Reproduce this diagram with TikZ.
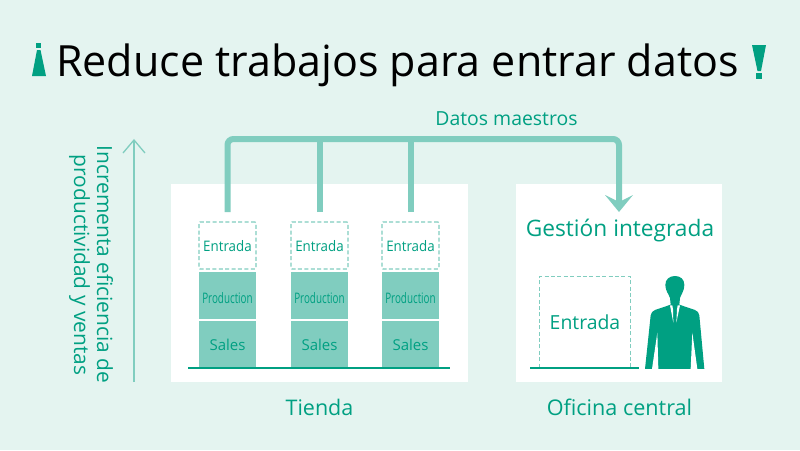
\documentclass[tikz,border=0pt]{standalone}
\usepackage{graphicx}
\usepackage{fontspec}
\setmainfont{Open Sans}
\definecolor{bgc}{HTML}{E4F4F0}
\definecolor{teal}{HTML}{00A082}
\definecolor{lite}{HTML}{80CDBF}
\newcommand{\fsz}[1]{\fontsize{#1}{#1}\selectfont}
\tikzset{
  panel/.style={fill=white,draw=none,minimum width=#1,minimum height=198pt,inner sep=0pt},
  txt/.style={text=teal,inner sep=0pt,font=\fsz{#1}},
  inputbox/.style={draw=lite,line width=1.4pt,dash pattern=on 4pt off 2.4pt,rounded corners=1pt,minimum width=57pt,minimum height=47pt,inner sep=0pt,text=teal,font=\fsz{14.5}},
  prodbox/.style={fill=lite,minimum width=57pt,minimum height=47pt,inner sep=0pt,text=teal,font=\fsz{14.5}},
  salesbox/.style={fill=lite,minimum width=57pt,minimum height=46.5pt,inner sep=0pt,text=teal,font=\fsz{15}},
  pipe/.style={draw=lite,line width=6pt},
  floorline/.style={draw=teal,line width=2pt},
}
\begin{document}
\begin{tikzpicture}[x=1pt,y=-1pt]
\useasboundingbox (0,0) rectangle (800,450);
\fill[bgc] (0,0) rectangle (800,450);
% title
\node[anchor=base,inner sep=0pt,text=black,font=\fsz{43}] (title) at (397.5,76) {Reduce trabajos para entrar datos};
\fill[teal] (36,43) rectangle (41,48);
\fill[teal] (37,50) -- (40.5,50) -- (46,76) -- (32,76) -- cycle;
\fill[teal] (752,45) -- (766,45) -- (761,71) -- (757.5,71) -- cycle;
\fill[teal] (756,73) rectangle (762,78.5);
% panels
\node[panel=297pt] (shop) at (319.5,283) {};
\node[panel=206pt] (office) at (619,283) {};
% stacks
\foreach \n/\x in {a/227.5,b/319.5,c/410.5}{
  \node[inputbox] (in\n) at (\x,245.5) {\raisebox{-6pt}[0pt][0pt]{\scalebox{.92}[1]{Entrada}}};
  \node[prodbox] (pr\n) at (\x,295.5) {\raisebox{-7.5pt}[0pt][0pt]{\scalebox{.68}[1]{Production}}};
  \node[salesbox] (sa\n) at (\x,344.2) {\raisebox{-6.5pt}[0pt][0pt]{Sales}};
  \coordinate (top\n) at (\x,139);
  \coordinate (end\n) at (\x,212);
}
\draw[floorline] (188,367.5) coordinate (fl1) -- (450,367.5) coordinate (fl2);
% pipes
\coordinate (headtop) at (619,205);
\draw[pipe,rounded corners=6pt] (enda) -- (topa) -- (619,139) -- (headtop);
\draw[pipe] (endb) -- (topb);
\draw[pipe] (endc) -- (topc);
\fill[lite] (619,212) -- (605,195) -- (619,202) -- (633,195) -- cycle;
\node[txt=19.4,anchor=base] (master) at (506.5,125.5) {Datos maestros};
% right panel
\node[txt=22.7,anchor=base] (mgmt) at (620,236) {Gestión integrada};
\coordinate (ed1) at (539.5,367.5);
\coordinate (ed2) at (630.5,367.5);
\draw[draw=lite,line width=1.4pt,dash pattern=on 4pt off 2.4pt] (ed1) -- (539.5,276.5) -- (630.5,276.5) -- (ed2);
\node[txt=19.4] (entry) at (585,322) {Entrada};
\draw[floorline] (530,367.5) coordinate (fl3) -- (639,367.5) coordinate (fl4);
% person
\begin{scope}[shift={(640,270)},x=0.3333pt,y=-0.3333pt]
\fill[teal] (105,18) .. controls (88,18) and (76,28) .. (76,45)
  .. controls (76,62) and (86,72) .. (90,84) -- (92,104)
  -- (45,120) .. controls (38,123) and (33,128) .. (32,136)
  -- (15,297) -- (193,297) -- (178,136)
  .. controls (177,128) and (172,123) .. (165,120)
  -- (118,104) -- (120,84)
  .. controls (124,72) and (133,62) .. (133,45)
  .. controls (133,28) and (122,18) .. (105,18) -- cycle;
\fill[white] (90,106) -- (97,106) -- (99,118) -- (100,158) -- cycle;
\fill[white] (120,106) -- (113,106) -- (111,118) -- (109,158) -- cycle;
\fill[white] (36,297) -- (52,188) -- (55,297) -- cycle;
\fill[white] (172,297) -- (157,188) -- (152,297) -- cycle;
\end{scope}
% captions
\node[txt=21.5,anchor=base] (shopcap) at (319.5,415) {Tienda};
\node[txt=21.6,anchor=base] (officecap) at (619.5,415) {Oficina central};
% axis
\coordinate (ax1) at (134,382);
\coordinate (ax2) at (134,140);
\draw[lite,line width=1.3pt] (ax1) -- (ax2);
\draw[lite,line width=1.3pt] (123,153) -- (ax2) -- (145,153);
\node[txt=20.9,rotate=-90] (l1) at (105,264.5) {Incrementa eficiencia de};
\node[txt=20.9,rotate=-90] (l2) at (79.5,265) {productividad y ventas};
\end{tikzpicture}
\end{document}
